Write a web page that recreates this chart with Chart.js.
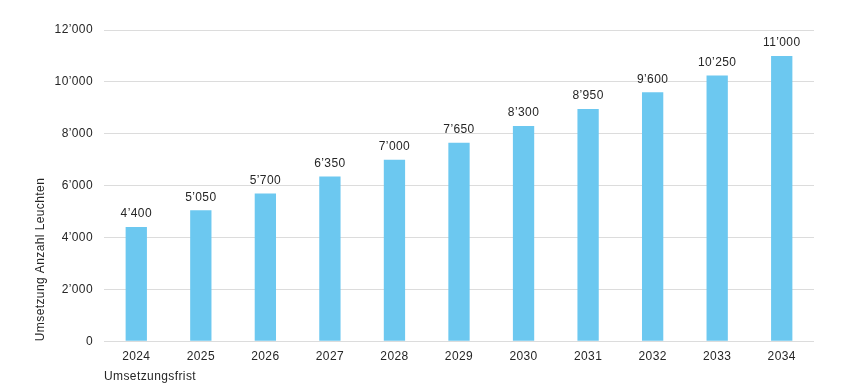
<!DOCTYPE html>
<html>
<head>
<meta charset="utf-8">
<script src="https://cdn.jsdelivr.net/npm/chart.js@4"></script>
<style>
  html, body { margin: 0; padding: 0; background: #fff; }
  #wrap { width: 850px; height: 387px; }
</style>
</head>
<body>
<div id="wrap"><canvas id="chart"></canvas></div>
<script>
const years = ['2024', '2025', '2026', '2027', '2028', '2029', '2030', '2031', '2032', '2033', '2034'];
const leuchten = [4400, 5050, 5700, 6350, 7000, 7650, 8300, 8950, 9600, 10250, 11000];

function fmt(v) {
  return String(v).replace(/\B(?=(\d{3})+(?!\d))/g, '\u2019');
}

// the reference text is slightly letter-spaced
const spacing = {
  id: 'spacing',
  beforeUpdate(chart) { chart.ctx.letterSpacing = '0.4px'; },
  beforeDraw(chart) { chart.ctx.letterSpacing = '0.4px'; }
};

// labels above the bars
const barLabels = {
  id: 'barLabels',
  afterDatasetsDraw(chart) {
    const ctx = chart.ctx;
    const meta = chart.getDatasetMeta(0);
    ctx.save();
    ctx.font = '12px "Liberation Sans", Arial, sans-serif';
    ctx.fillStyle = '#262626';
    ctx.textAlign = 'center';
    ctx.textBaseline = 'bottom';
    meta.data.forEach((bar, i) => {
      ctx.fillText(fmt(leuchten[i]), bar.x, bar.y - 7);
    });
    ctx.restore();
  }
};

Chart.defaults.font.family = '"Liberation Sans", Arial, sans-serif';
Chart.defaults.font.size = 12;
Chart.defaults.color = '#262626';

new Chart(document.getElementById('chart'), {
  type: 'bar',
  data: {
    labels: years,
    datasets: [{
      data: leuchten,
      backgroundColor: '#6cc8f0',
      barPercentage: 0.33,
      categoryPercentage: 1
    }]
  },
  options: {
    responsive: true,
    maintainAspectRatio: false,
    animation: false,
    layout: { padding: { left: 33, right: 36, top: 30, bottom: 3 } },
    plugins: {
      legend: { display: false },
      tooltip: { enabled: false }
    },
    scales: {
      x: {
        grid: { display: false },
        border: { display: false },
        ticks: { padding: 0 },
        title: {
          display: true,
          text: 'Umsetzungsfrist',
          align: 'start',
          padding: { top: 6, bottom: 0 }
        }
      },
      y: {
        min: 0,
        max: 12000,
        afterFit: (scale) => { scale.width = 71; },
        ticks: {
          stepSize: 2000,
          padding: 11,
          callback: (v) => fmt(v)
        },
        grid: { color: '#dcdcdc', drawTicks: false },
        border: { display: false },
        title: {
          display: true,
          text: 'Umsetzung Anzahl Leuchten',
          align: 'start',
          padding: { top: 0, bottom: 4 }
        }
      }
    }
  },
  plugins: [spacing, barLabels]
});
</script>
</body>
</html>
